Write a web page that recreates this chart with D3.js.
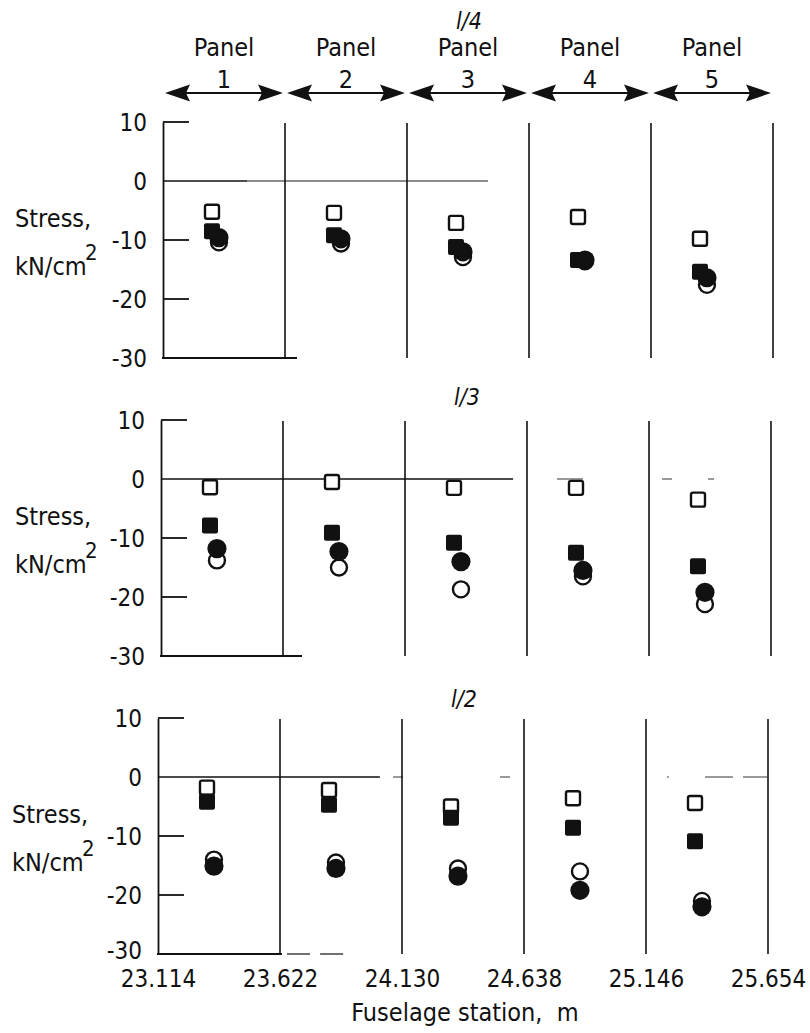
<!DOCTYPE html>
<html>
<head>
<meta charset="utf-8">
<script src="https://cdn.jsdelivr.net/npm/d3@7"></script>
<style>
  html, body { margin: 0; padding: 0; background: #fff; }
  svg { display: block; }
  text { font-family: "DejaVu Sans Condensed", "DejaVu Sans", sans-serif; font-stretch: condensed; fill: #111; }
</style>
</head>
<body>
<svg id="chart" width="810" height="1033"></svg>
<script>
// ---------------- data ----------------
const stations = [23.114, 23.622, 24.130, 24.638, 25.146, 25.654];   // panel boundaries, m
const panelNames = ["1", "2", "3", "4", "5"];
const rowLabels = ["l/4", "l/3", "l/2"];
const yTicks = [10, 0, -10, -20, -30];
const innerTicks = [10, -10, -20];

// stress, kN/cm^2 ; one inner array per row (l/4, l/3, l/2), five panels each
const openSquare = [
  [-5.2, -5.4, -7.1, -6.1, -9.8],
  [-1.4, -0.5, -1.5, -1.5, -3.5],
  [-1.8, -2.2, -5.0, -3.6, -4.4]
];
const filledSquare = [
  [-8.5, -9.2, -11.2, -13.4, -15.4],
  [-7.9, -9.1, -10.8, -12.5, -14.8],
  [-4.2, -4.7, -6.9, -8.6, -10.9]
];
const openCircle = [
  [-10.4, -10.6, -12.9, -13.6, -17.6],
  [-13.8, -15.0, -18.7, -16.5, -21.2],
  [-14.0, -14.5, -15.5, -16.0, -21.0]
];
const filledCircle = [
  [-9.6, -9.8, -12.0, -13.4, -16.4],
  [-11.8, -12.3, -14.0, -15.5, -19.2],
  [-15.1, -15.5, -16.8, -19.2, -22.0]
];

// ---------------- layout ----------------
const rowTop = [122, 420, 718];        // pixel of +10
const rowShift = [0, -2, -5];          // slight skew of the scanned original
const plotH = 236;
const xLeft = 163, xRight = 773;
const sqOffset = 0.204, ciOffset = 0.233;  // marker station offset inside a panel (m)
const sqSize = 14, fsqSize = 16, ciR = 8, fciR = 9.6;
const tickLen = 26;

const svg = d3.select("#chart");

function xScale(r) {
  return d3.scaleLinear().domain([stations[0], stations[5]])
    .range([xLeft + rowShift[r], xRight + rowShift[r]]);
}
function yScale(r) {
  return d3.scaleLinear().domain([-30, 10]).range([rowTop[r] + plotH, rowTop[r]]);
}

// --------- header: panel names with double arrows ---------
{
  const x = xScale(0);
  const hdr = svg.append("g");
  const arrowY = 93, head = 25, half = 8.5, notch = 4, gap = 2;
  panelNames.forEach((p, i) => {
    const a = x(stations[i]) + gap, b = x(stations[i + 1]) - gap;
    const mid = (a + b) / 2;
    hdr.append("text").attr("x", mid).attr("y", 56).attr("text-anchor", "middle")
      .attr("font-size", 25).text("Panel");
    hdr.append("text").attr("x", mid).attr("y", 88).attr("text-anchor", "middle")
      .attr("font-size", 25).text(p);
    hdr.append("line").attr("x1", a + 10).attr("x2", b - 10)
      .attr("y1", arrowY).attr("y2", arrowY).attr("stroke", "#111").attr("stroke-width", 1.8);
    hdr.append("path").attr("fill", "#111")
      .attr("d", `M${a},${arrowY} L${a + head},${arrowY - half} L${a + head - notch},${arrowY} L${a + head},${arrowY + half} Z`);
    hdr.append("path").attr("fill", "#111")
      .attr("d", `M${b},${arrowY} L${b - head},${arrowY - half} L${b - head + notch},${arrowY} L${b - head},${arrowY + half} Z`);
  });
}

// --------- row label positions ---------
const rowLabelY = [29, rowTop[1] - 15, rowTop[2] - 11];

// decorative partial zero lines (station units) – the original's faint broken lines
const zeroDarkEnd = [23.464, 24.580, 24.038];
const zeroSolidEnd = [24.467, 24.580, 24.038];
const zeroFragments = [
  [],
  [[24.763, 24.871], [25.200, 25.242], [25.392, 25.417]],
  [[24.093, 24.134], [24.538, 24.580], [25.233, 25.241], [25.392, 25.508], [25.550, 25.650]]
];
const bottomSolidEnd = [23.672, 23.701, 23.630];
const bottomFragments = [[], [], [[23.651, 23.747], [23.789, 23.885]]];

for (let r = 0; r < 3; r++) {
  const x = xScale(r), y = yScale(r);
  const g = svg.append("g");
  const x0 = x(stations[0]);

  // y axis with inward ticks
  const ax = g.append("g").attr("transform", `translate(${x0},0)`)
    .call(d3.axisLeft(y).tickValues(yTicks).tickSizeInner(0).tickSizeOuter(0).tickPadding(16)
      .tickFormat(d => String(d)));
  ax.attr("font-family", null).attr("font-size", null);
  ax.select(".domain").attr("stroke", "#111").attr("stroke-width", 1.8);
  ax.selectAll("text").attr("font-size", 24).attr("dy", d => (r === 2 && d === -30) ? "0.2em" : "0.36em")
    .style("font-family", '"DejaVu Sans Condensed", "DejaVu Sans", sans-serif');

  g.selectAll(".itick").data(innerTicks).join("line")
    .attr("x1", x0).attr("x2", x0 + tickLen)
    .attr("y1", d => y(d)).attr("y2", d => y(d))
    .attr("stroke", "#111").attr("stroke-width", 1.8);

  // zero line
  g.append("line").attr("x1", x0).attr("x2", x(zeroDarkEnd[r]))
    .attr("y1", y(0)).attr("y2", y(0)).attr("stroke", "#111").attr("stroke-width", 1.6);
  if (zeroSolidEnd[r] > zeroDarkEnd[r]) {
    g.append("line").attr("x1", x(zeroDarkEnd[r])).attr("x2", x(zeroSolidEnd[r]))
      .attr("y1", y(0)).attr("y2", y(0)).attr("stroke", "#666").attr("stroke-width", 1.3);
  }
  zeroFragments[r].forEach(f => {
    g.append("line").attr("x1", x(f[0])).attr("x2", x(f[1]))
      .attr("y1", y(0)).attr("y2", y(0)).attr("stroke", "#555").attr("stroke-width", 1.2);
  });
  // bottom line
  g.append("line").attr("x1", x0 - 1).attr("x2", x(bottomSolidEnd[r]))
    .attr("y1", y(-30)).attr("y2", y(-30)).attr("stroke", "#111").attr("stroke-width", 1.8);
  bottomFragments[r].forEach(f => {
    g.append("line").attr("x1", x(f[0])).attr("x2", x(f[1]))
      .attr("y1", y(-30)).attr("y2", y(-30)).attr("stroke", "#333").attr("stroke-width", 1.4);
  });

  // panel dividers
  g.selectAll(".div").data(stations.slice(1)).join("line")
    .attr("x1", d => x(d)).attr("x2", d => x(d))
    .attr("y1", y(10) + 1).attr("y2", y(-30))
    .attr("stroke", "#111").attr("stroke-width", 1.6);

  // y label
  const lx = [15, 15, 12][r];
  g.append("text").attr("x", lx).attr("y", y(0) + 46).attr("font-size", 25).text("Stress,");
  g.append("text").attr("x", lx).attr("y", y(0) + 94).attr("font-size", 25).text("kN/cm");
  g.append("text").attr("x", lx + 70).attr("y", y(0) + 79).attr("font-size", 22).text("2");

  // row label
  g.append("text").attr("x", x((stations[2] + stations[3]) / 2) + 1).attr("y", rowLabelY[r])
    .attr("text-anchor", "middle").attr("font-size", 23).attr("font-style", "italic")
    .text(rowLabels[r]);

  // markers: open first, filled drawn on top
  const idx = d3.range(5);
  g.selectAll(".oc").data(idx).join("circle")
    .attr("cx", i => x(stations[i] + ciOffset)).attr("cy", i => y(openCircle[r][i]))
    .attr("r", ciR).attr("fill", "#fff").attr("stroke", "#111").attr("stroke-width", 2.4);
  g.selectAll(".os").data(idx).join("rect")
    .attr("x", i => x(stations[i] + sqOffset) - sqSize / 2)
    .attr("y", i => y(openSquare[r][i]) - sqSize / 2)
    .attr("width", sqSize).attr("height", sqSize).attr("rx", 2)
    .attr("fill", "#fff").attr("stroke", "#111").attr("stroke-width", 2.4);
  g.selectAll(".fc").data(idx).join("circle")
    .attr("cx", i => x(stations[i] + ciOffset)).attr("cy", i => y(filledCircle[r][i]))
    .attr("r", fciR).attr("fill", "#111");
  g.selectAll(".fs").data(idx).join("rect")
    .attr("x", i => x(stations[i] + sqOffset) - fsqSize / 2)
    .attr("y", i => y(filledSquare[r][i]) - fsqSize / 2)
    .attr("width", fsqSize).attr("height", fsqSize).attr("rx", 2)
    .attr("fill", "#111");

  // x axis labels on the bottom row
  if (r === 2) {
    const xa = g.append("g").attr("transform", `translate(0,${y(-30)})`)
      .call(d3.axisBottom(x).tickValues(stations).tickSize(0).tickPadding(16)
        .tickFormat(d3.format(".3f")));
    xa.attr("font-family", null).attr("font-size", null);
    xa.select(".domain").remove();
    xa.selectAll("text").attr("font-size", 24)
      .style("font-family", '"DejaVu Sans Condensed", "DejaVu Sans", sans-serif');
    g.append("text").attr("x", x((stations[2] + stations[3]) / 2) + 2).attr("y", 1021)
      .attr("text-anchor", "middle").attr("font-size", 25).attr("xml:space", "preserve")
      .style("white-space", "pre").text("Fuselage station,  m");
  }
}
</script>
</body>
</html>
